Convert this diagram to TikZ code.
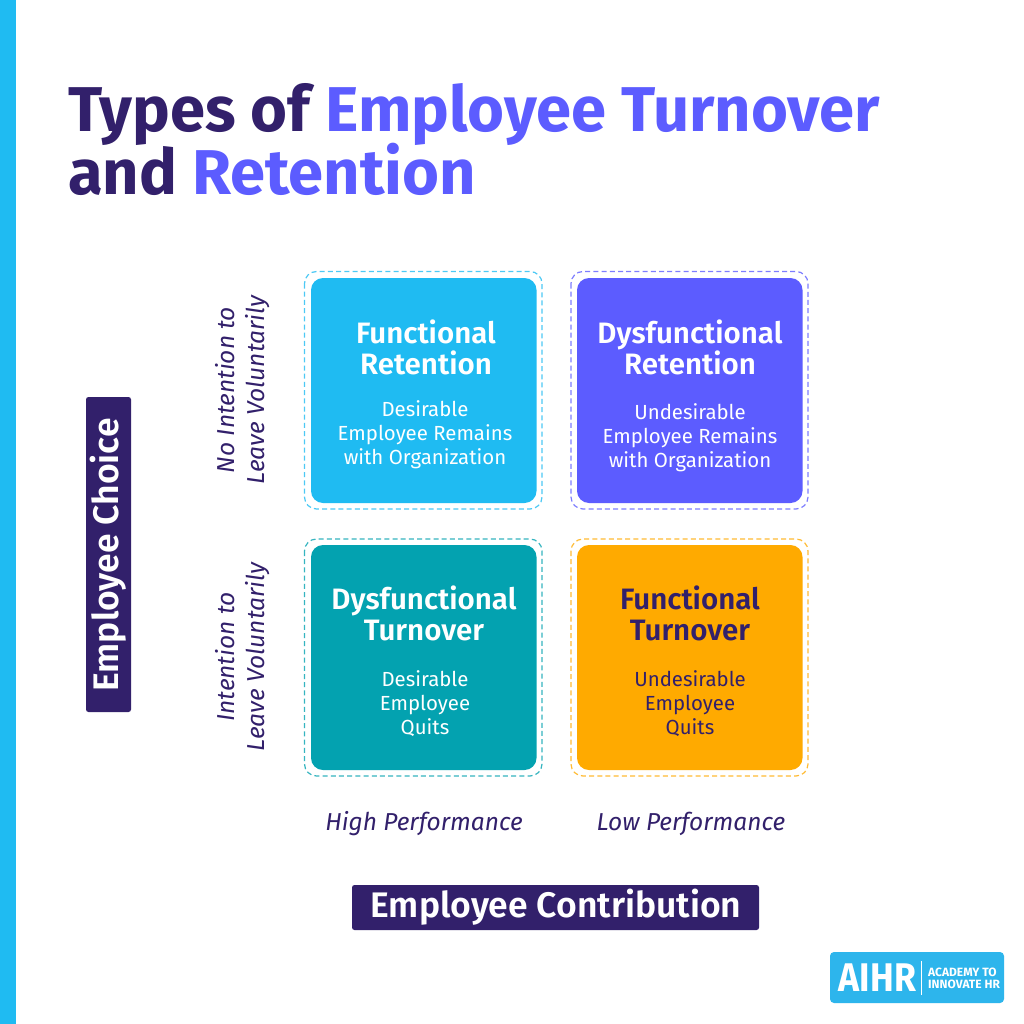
\documentclass[tikz,border=0pt]{standalone}
\usepackage{fontspec}
\setmainfont{Fira Sans}
\newfontfamily\semi{Fira Sans SemiBold}
\definecolor{cy}{HTML}{1FBBF2}
\definecolor{pu}{HTML}{5C5CFF}
\definecolor{te}{HTML}{03A2B0}
\definecolor{orng}{HTML}{FFAA00}
\definecolor{nv}{HTML}{32206B}
\definecolor{lg}{HTML}{2DB5EC}
\tikzset{
 cellbox/.style={rounded corners=12pt,line width=0pt},
 dashbox/.style={rounded corners=12pt,line width=1.2pt,dash pattern=on 5pt off 3.2pt},
 head/.style={align=center,inner sep=0pt,font=\fontsize{29.5}{31}\selectfont\semi},
 body/.style={align=center,inner sep=0pt,font=\fontsize{20.4}{24}\selectfont},
 axis/.style={align=center,inner sep=0pt,text=nv,font=\fontsize{24.5}{30}\selectfont\itshape},
 bar/.style={fill=nv,rounded corners=2.5pt},
 bartext/.style={inner sep=0pt,text=white,font=\fontsize{35.5}{38}\selectfont\semi},
 ttl/.style={inner sep=0pt,anchor=base west,text=nv,font=\fontsize{63.3}{70}\selectfont\bfseries}
}
\begin{document}
\begin{tikzpicture}[x=1pt,y=-1pt]
\useasboundingbox (0,0) rectangle (1024,1024);
\fill[white] (0,0) rectangle (1024,1024);
\fill[cy] (0,0) rectangle (16,1024);
\node[ttl] (t1) at (68,132) {Types of \textcolor{pu}{Employee Turnover}};
\node[ttl] (t2) at (68,195) {and \textcolor{pu}{Retention}};
% cells
\draw[dashbox,draw=cy!80!white] (304.5,271.5) rectangle (542,509);
\fill[cellbox,cy] (311,278) rectangle (536.5,503);
\draw[dashbox,draw=pu!80!white] (571,271.5) rectangle (808,509);
\fill[cellbox,pu] (577,278) rectangle (802.5,503);
\draw[dashbox,draw=te!80!white] (304.5,539) rectangle (542,776);
\fill[cellbox,te] (311,545) rectangle (536.5,770);
\draw[dashbox,draw=orng!80!white] (571,539) rectangle (808,776);
\fill[cellbox,orng] (577,545) rectangle (802.5,770);
\node[head,text=white] (h1) at (426,347) {Functional\\Retention};
\node[body,text=white] (b1) at (425,435) {Desirable\\Employee Remains\\with Organization};
\node[head,text=white] (h2) at (690,347) {Dysfunctional\\Retention};
\node[body,text=white] (b2) at (690,438) {Undesirable\\Employee Remains\\with Organization};
\node[head,text=white] (h3) at (424,613) {Dysfunctional\\Turnover};
\node[body,text=white] (b3) at (425,703.5) {Desirable\\Employee\\Quits};
\node[head,text=nv] (h4) at (690,613) {Functional\\Turnover};
\node[body,text=nv] (b4) at (690,703.5) {Undesirable\\Employee\\Quits};
% axis labels
\node[axis,rotate=90] (a1) at (243,390) {No Intention to\\Leave Voluntarily};
\node[axis,rotate=90] (a2) at (243,657) {Intention to\\Leave Voluntarily};
\node[axis] (a3) at (424,824) {High Performance};
\node[axis] (a4) at (691,824) {Low Performance};
% bars
\fill[bar] (86,397) rectangle (131,712);
\node[bartext,rotate=90] (ec) at (108,555) {Employee Choice};
\fill[bar] (352,885) rectangle (759,930);
\node[bartext] (ecc) at (556,907) {Employee Contribution};
% logo
\fill[lg,rounded corners=4pt] (830,952) rectangle (1004,1003);
\node[inner sep=0pt,xscale=0.89,text=white,font=\fontsize{40}{40}\selectfont\bfseries] (ai) at (877.5,978) {AIHR};
\draw[white,line width=0.8pt] (921,961) -- (921,995);
\node[inner sep=0pt,anchor=west,align=left,text=white,font=\fontsize{12}{12}\selectfont\bfseries] (ac) at (928,978) {ACADEMY TO\\INNOVATE HR};
\end{tikzpicture}
\end{document}
